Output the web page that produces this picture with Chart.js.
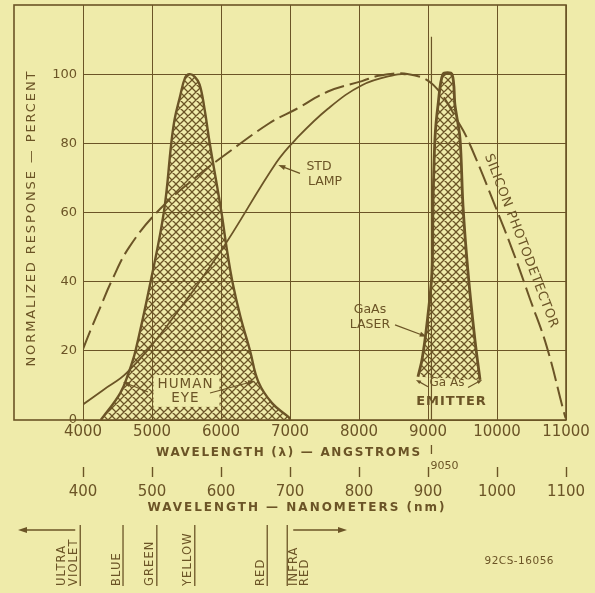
<!DOCTYPE html>
<html>
<head>
<meta charset="utf-8">
<script src="https://cdn.jsdelivr.net/npm/chart.js@4.4.1/dist/chart.umd.min.js"></script>
<style>
  html, body { margin: 0; padding: 0; background: #efebaa; }
  canvas { display: block; }
</style>
</head>
<body>
<canvas id="chart" width="595" height="593"></canvas>
<script>
const PAPER = '#efebaa';
const INK = '#6b5426';
const FONT = '"DejaVu Sans", sans-serif';

// wavelength in angstroms, response in percent
const eyeWl  = [4258, 4540, 4660, 4762, 4980, 5174, 5280, 5330, 5400, 5480, 5546, 5620, 5690, 5760, 5836, 6004, 6080, 6165, 6280, 6420, 6540, 6743, 6981, 7000];
const eyePct = [0,    7.8,  13.6, 20.1, 40,   60.4, 80.1, 87.2, 93,   99,   100,  99.2, 97,   90.1, 80.1, 60.4, 50,   40,   30,   20.1, 11.1, 4.8,  0.8,  0];

const lampWl  = [4000, 4294, 4633, 5213, 5986, 6807, 7100, 7550, 8043, 8520, 8700];
const lampPct = [4.5,  8.7,  13.6, 27.1, 48.5, 74.6, 81.5, 90,   96.8, 99.8, 100];

const siliconWl  = [4000, 4110, 4260, 4410, 4670, 5116, 5696, 5986, 6700, 7100, 7550, 8043, 8304, 8720, 9077, 9464, 9633, 9971, 10236, 10478, 10720, 10961, 10995];
const siliconPct = [20.5, 26,   33,   40,   50,   61,   71.2, 75.6, 85.8, 90,   95,   98,   99.6, 100,  96.9, 85.3, 78.5, 62,   48.5,  35,    21.3,  2.9,   0.5];

const emitterWl  = [8855, 8913, 8986, 9058, 9072, 9101, 9145, 9217, 9348, 9391, 9464, 9507, 9580, 9681, 9754];
const emitterPct = [12.5, 17.4, 28,   42.7, 62,   81.4, 91,   100,  100,  91,   81.4, 62,   42.7, 23,   11.6];

const laserWl  = [9050, 9050];
const laserPct = [0, 110.8];

const angstromTicks = [4000, 5000, 6000, 7000, 8000, 9000, 10000, 11000];
const nmTicks = [400, 500, 600, 700, 800, 900, 1000, 1100];
const pctTicks = [0, 20, 40, 60, 80, 100];

// colour band boundaries (angstroms) and their labels
const bandEdges = [3960, 4580, 5070, 5620, 6670, 6960];
const bandLabels = [['ULTRA', 'VIOLET'], ['BLUE'], ['GREEN'], ['YELLOW'], ['RED'], ['INFRA', 'RED']];

const pts = (xs, ys) => xs.map((v, i) => ({ x: v, y: ys[i] }));

function crossHatch() {
  const s = 8;
  const c = document.createElement('canvas');
  c.width = s; c.height = s;
  const g = c.getContext('2d');
  g.strokeStyle = INK;
  g.lineWidth = 1.25;
  g.beginPath();
  for (const k of [-s, 0, s]) {
    g.moveTo(k, 0); g.lineTo(k + s, s);
  }
  for (const m of [0, s, 2 * s]) {
    g.moveTo(m, 0); g.lineTo(m - s, s);
  }
  g.stroke();
  return g.createPattern(c, 'repeat');
}

function arrow(ctx, x1, y1, x2, y2, len, half) {
  const a = Math.atan2(y2 - y1, x2 - x1);
  ctx.beginPath();
  ctx.moveTo(x1, y1);
  ctx.lineTo(x2 - Math.cos(a) * len * 0.6, y2 - Math.sin(a) * len * 0.6);
  ctx.stroke();
  ctx.beginPath();
  ctx.moveTo(x2, y2);
  ctx.lineTo(x2 - len * Math.cos(a) + half * Math.sin(a), y2 - len * Math.sin(a) - half * Math.cos(a));
  ctx.lineTo(x2 - len * Math.cos(a) - half * Math.sin(a), y2 - len * Math.sin(a) + half * Math.cos(a));
  ctx.closePath();
  ctx.fill();
}

function label(ctx, str, x, y, size, opts = {}) {
  const sp = opts.spacing || 0;
  ctx.font = `${opts.bold ? 'bold ' : ''}${size}px ${FONT}`;
  ctx.letterSpacing = sp + 'px';
  ctx.textAlign = opts.align || 'center';
  ctx.textBaseline = opts.baseline || 'middle';
  ctx.fillText(str, x + (ctx.textAlign === 'center' ? sp / 2 : 0), y);
}

function vlabel(ctx, str, bx, by) {
  ctx.save();
  ctx.translate(bx, by);
  ctx.rotate(-Math.PI / 2);
  label(ctx, str, 0, 0, 11.5, { align: 'left', baseline: 'alphabetic', spacing: 1.1 });
  ctx.restore();
}

const annotations = {
  id: 'annotations',
  afterDatasetsDraw(chart) {
    const { ctx, scales: { x, y } } = chart;
    const X = v => x.getPixelForValue(v), Y = v => y.getPixelForValue(v);
    ctx.save();
    // clear patch behind the HUMAN EYE label
    ctx.fillStyle = PAPER;
    ctx.fillRect(X(5000) + 1.5, Y(13), X(6000) - X(5000) - 3, Y(3.8) - Y(13));

    ctx.fillStyle = INK;
    ctx.strokeStyle = INK;
    ctx.lineWidth = 1.2;
    label(ctx, 'HUMAN', X(5478), Y(10.4), 13.5, { spacing: 1 });
    label(ctx, 'EYE', X(5478), Y(6.2), 13.5, { spacing: 1 });
    arrow(ctx, X(4942), Y(8.1), X(4580), Y(11), 7, 2.5);
    arrow(ctx, X(5841), Y(7.8), X(6493), Y(11.3), 7, 2.5);

    label(ctx, 'STD', X(7420), Y(73.2), 12.5);
    label(ctx, 'LAMP', X(7507), Y(68.8), 12.5);
    arrow(ctx, X(7145), Y(71.3), X(6831), Y(73.7), 7, 2.5);

    label(ctx, 'GaAs', X(8159), Y(31.8), 12.5);
    label(ctx, 'LASER', X(8159), Y(27.5), 12.5);
    arrow(ctx, X(8522), Y(27.5), X(8981), Y(24.1), 7, 2.5);

    label(ctx, 'Ga As', X(9275), Y(10.7), 12);
    label(ctx, 'EMITTER', X(9333), Y(5.2), 13, { bold: true, spacing: 1 });
    arrow(ctx, X(9000), Y(9.6), X(8826), Y(11.6), 5, 2);
    arrow(ctx, X(9580), Y(9.4), X(9783), Y(11.6), 5, 2);

    ctx.save();
    ctx.translate(X(10348), Y(51.8));
    ctx.rotate(69 * Math.PI / 180);
    label(ctx, 'SILICON PHOTODETECTOR', 0, 0, 13, { spacing: 0.6 });
    ctx.restore();
    ctx.restore();
  },
  afterDraw(chart) {
    const { ctx, chartArea: area, scales: { x, y } } = chart;
    const X = v => x.getPixelForValue(v);
    ctx.save();
    ctx.strokeStyle = INK;
    ctx.fillStyle = INK;

    // outer frame
    ctx.lineWidth = 1.6;
    ctx.strokeRect(y.left, area.top, area.right - y.left, area.bottom - area.top);

    // axis titles
    ctx.save();
    ctx.translate(32, 219);
    ctx.rotate(-Math.PI / 2);
    label(ctx, 'NORMALIZED RESPONSE — PERCENT', 0, 0, 13, { spacing: 1.9 });
    ctx.restore();
    label(ctx, 'WAVELENGTH (λ) — ANGSTROMS', 288, 453, 12, { bold: true, spacing: 1.7 });
    label(ctx, 'WAVELENGTH — NANOMETERS (nm)', 296, 508, 12, { bold: true, spacing: 2 });

    // 9050 laser marker under the axis
    ctx.lineWidth = 1.3;
    ctx.beginPath();
    ctx.moveTo(X(9050), 445);
    ctx.lineTo(X(9050), 454);
    ctx.stroke();
    label(ctx, '9050', X(9050) - 1, 466, 11, { align: 'left' });

    // colour bands
    ctx.lineWidth = 1.3;
    bandEdges.forEach((edge, i) => {
      const bx = X(edge);
      ctx.beginPath();
      ctx.moveTo(bx, 525);
      ctx.lineTo(bx, 586);
      ctx.stroke();
      const lines = bandLabels[i];
      if (i === bandEdges.length - 1) {
        lines.forEach((t, k) => vlabel(ctx, t, bx + 10 + k * 10.5, 586));
      } else {
        const n = lines.length;
        lines.forEach((t, k) => vlabel(ctx, t, bx - 3.5 - (n - 1 - k) * 12, 586));
      }
    });
    arrow(ctx, X(bandEdges[0]) - 5, 530, 18, 530, 9, 3);
    arrow(ctx, X(bandEdges[bandEdges.length - 1]) + 6, 530, 347, 530, 9, 3);

    label(ctx, '92CS-16056', 519, 561, 10.5, { spacing: 0.5 });
    ctx.restore();
  }
};

const hatch = crossHatch();
const common = { xAxisID: 'x', yAxisID: 'y', borderColor: INK, pointRadius: 0, tension: 0.4 };

new Chart(document.getElementById('chart'), {
  type: 'line',
  data: {
    datasets: [
      { ...common, label: 'Std lamp', data: pts(lampWl, lampPct), borderWidth: 1.8, fill: false, order: 1 },
      { ...common, label: 'Silicon photodetector', data: pts(siliconWl, siliconPct), borderWidth: 2, borderDash: [20, 6], fill: false, order: 2 },
      { ...common, label: 'GaAs laser', data: pts(laserWl, laserPct), borderWidth: 1.2, tension: 0, fill: false, order: 3 },
      { ...common, label: 'GaAs emitter', data: pts(emitterWl, emitterPct), borderWidth: 2.8, tension: 0.3, backgroundColor: hatch, fill: 'shape', order: 4 },
      { ...common, label: 'Human eye', data: pts(eyeWl, eyePct), borderWidth: 2.4, backgroundColor: hatch, fill: 'origin', order: 5 },
    ]
  },
  options: {
    responsive: false,
    animation: false,
    events: [],
    layout: { padding: { left: 14, right: 29, top: 5, bottom: 78 } },
    plugins: { legend: { display: false }, tooltip: { enabled: false } },
    scales: {
      x: {
        type: 'linear', position: 'bottom', min: 4000, max: 11000, weight: 0,
        afterBuildTicks: s => { s.ticks = angstromTicks.map(v => ({ value: v })); },
        afterFit: s => { s.height = 47; s.paddingLeft = 0; s.paddingRight = 0; },
        ticks: { font: { family: FONT, size: 15 }, color: INK, padding: 3, maxRotation: 0, autoSkip: false, callback: v => String(v) },
        grid: { color: INK, lineWidth: 1, drawTicks: false },
        border: { display: false },
      },
      x2: {
        type: 'linear', position: 'bottom', min: 400, max: 1100, weight: 1,
        afterBuildTicks: s => { s.ticks = nmTicks.map(v => ({ value: v })); },
        afterFit: s => { s.height = 48; s.paddingLeft = 0; s.paddingRight = 0; },
        ticks: { font: { family: FONT, size: 15 }, color: INK, padding: 6, maxRotation: 0, autoSkip: false, callback: v => String(v) },
        grid: { drawOnChartArea: false, drawTicks: true, tickLength: 10, tickWidth: 1.4, tickColor: INK },
        border: { display: false },
      },
      y: {
        type: 'linear', position: 'left', min: 0, max: 120,
        afterBuildTicks: s => { s.ticks = pctTicks.map(v => ({ value: v })); },
        afterFit: s => { s.width = 69; s.paddingTop = 0; s.paddingBottom = 0; },
        ticks: { font: { family: FONT, size: 13 }, color: INK, padding: 6, callback: v => String(v) },
        grid: { color: INK, lineWidth: 1, drawTicks: false },
        border: { display: false },
      }
    }
  },
  plugins: [annotations]
});
</script>
</body>
</html>
